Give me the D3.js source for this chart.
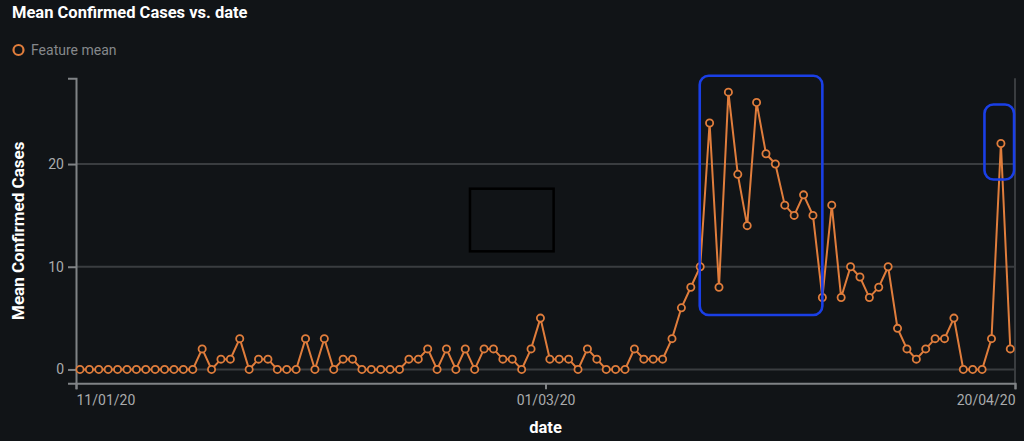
<!DOCTYPE html>
<html><head><meta charset="utf-8">
<script src="https://cdn.jsdelivr.net/npm/d3@7/dist/d3.min.js"></script>
<style>
html,body{margin:0;padding:0;background:#111417;}
svg{display:block;}
text{font-family:Roboto,"Open Sans",sans-serif;}
</style></head><body>
<svg id="c" width="1024" height="441"></svg>
<script>
const title = "Mean Confirmed Cases vs. date";
const legendLabel = "Feature mean";
const yLabel = "Mean Confirmed Cases";
const xLabel = "date";
const tickLabels = ["11/01/20", "01/03/20", "20/04/20"];
const tickDates = [new Date(2020,0,11), new Date(2020,2,1), new Date(2020,3,20)];
const yTicks = [0, 10, 20];
const values = [
  0,0,0,0,0,0,0,0,0,0,0,0,0,2,0,1,1,3,0,1,
  1,0,0,0,3,0,3,0,1,1,0,0,0,0,0,1,1,2,0,2,
  0,2,0,2,2,1,1,0,2,5,1,1,1,0,2,1,0,0,0,2,
  1,1,1,3,6,8,10,24,8,27,19,14,26,21,20,16,15,17,15,7,
  16,7,10,9,7,8,10,4,2,1,2,3,3,5,0,0,0,3,22,2
];
// annotation boxes (data-space: index range, value range)
const blueBoxes = [
  {i0:65.95, i1:79.0, v0:5.3, v1:28.6},
  {i0:96.25, i1:99.4, v0:18.5, v1:25.8}
];
const blackBoxes = [{i0:41.5, i1:50.4, v0:11.5, v1:17.6}];

const svg = d3.select("#c");
const L = 76, R = 1015, T = 78.3, B = 383.3;
const orange = "#e07d3c", grid = "#3a3d40", axisCol = "#808386";

const x = d3.scaleLinear().domain([0, values.length - 1]).range([80, 1010.3]);
const xt = d3.scaleTime().domain([tickDates[0], tickDates[2]]).range([L, R]);
const y = d3.scaleLinear().domain([-1.35, 28.35]).range([B, T]);

// grid
svg.append("g").selectAll("line").data(yTicks).join("line")
  .attr("x1", L).attr("x2", R).attr("y1", d => y(d)).attr("y2", d => y(d))
  .attr("stroke", grid).attr("stroke-width", 2);
svg.append("line").attr("x1", xt(tickDates[2])).attr("x2", xt(tickDates[2]))
  .attr("y1", T).attr("y2", B).attr("stroke", grid).attr("stroke-width", 2);

// y axis
const ya = svg.append("g").attr("transform", `translate(${L},0)`)
  .call(d3.axisLeft(y).tickValues(yTicks).tickSize(8).tickSizeOuter(8).tickPadding(4));
ya.select(".domain").attr("stroke", axisCol).attr("stroke-width", 2);
ya.selectAll(".tick line").attr("stroke", axisCol).attr("stroke-width", 2);
ya.selectAll(".tick text").attr("fill", "#a9abad").attr("font-size", 14);

// x axis
const xa = svg.append("g").attr("transform", `translate(0,${B})`)
  .call(d3.axisBottom(xt).tickValues(tickDates).tickSize(6).tickSizeOuter(6)
    .tickFormat((d, i) => tickLabels[i]).tickPadding(6));
xa.select(".domain").attr("stroke", axisCol).attr("stroke-width", 2);
xa.selectAll(".tick line").attr("stroke", axisCol).attr("stroke-width", 2);
xa.selectAll(".tick text").attr("fill", "#a9abad").attr("font-size", 14)
  .attr("text-anchor", (d, i) => i === 0 ? "start" : (i === 2 ? "end" : "middle"));

// line
svg.append("path").datum(values)
  .attr("d", d3.line().x((d, i) => x(i)).y(d => y(d)))
  .attr("fill", "none").attr("stroke", orange).attr("stroke-width", 2);
svg.append("g").selectAll("circle").data(values).join("circle")
  .attr("cx", (d, i) => x(i)).attr("cy", d => y(d)).attr("r", 3.6)
  .attr("fill", "#111417").attr("stroke", orange).attr("stroke-width", 1.8);

// annotation boxes
svg.append("g").selectAll("rect").data(blueBoxes).join("rect")
  .attr("x", d => x(d.i0)).attr("y", d => y(d.v1))
  .attr("width", d => x(d.i1) - x(d.i0)).attr("height", d => y(d.v0) - y(d.v1))
  .attr("rx", 9).attr("fill", "none").attr("stroke", "#1a3fe6").attr("stroke-width", 2.6);
svg.append("g").selectAll("rect").data(blackBoxes).join("rect")
  .attr("x", d => x(d.i0)).attr("y", d => y(d.v1))
  .attr("width", d => x(d.i1) - x(d.i0)).attr("height", d => y(d.v0) - y(d.v1))
  .attr("fill", "none").attr("stroke", "#000").attr("stroke-width", 2.5);

// titles
svg.append("text").attr("x", 12).attr("y", 18).text(title)
  .attr("fill", "#ffffff").attr("font-weight", "bold").attr("font-size", 16.5);
svg.append("circle").attr("cx", 18.5).attr("cy", 50).attr("r", 5)
  .attr("fill", "none").attr("stroke", orange).attr("stroke-width", 2.2);
svg.append("text").attr("x", 31).attr("y", 55).text(legendLabel)
  .attr("fill", "#85888b").attr("font-size", 14);
svg.append("text").attr("transform", `translate(24,${(T + B) / 2}) rotate(-90)`)
  .attr("text-anchor", "middle").text(yLabel)
  .attr("fill", "#ffffff").attr("font-weight", "bold").attr("font-size", 17);
svg.append("text").attr("x", xt(tickDates[1])).attr("y", 433).attr("text-anchor", "middle")
  .text(xLabel).attr("fill", "#ffffff").attr("font-weight", "bold").attr("font-size", 16.5);
</script></body></html>
